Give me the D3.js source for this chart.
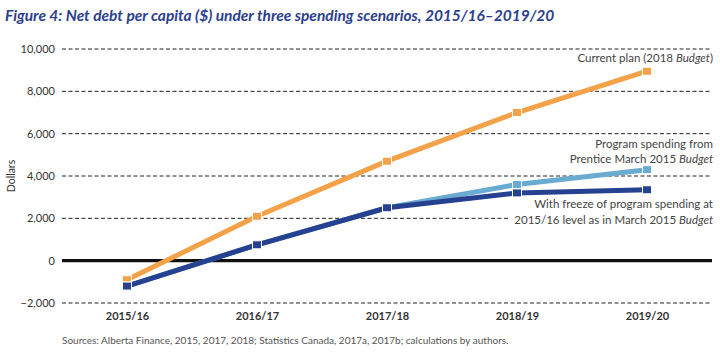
<!DOCTYPE html>
<html><head><meta charset="utf-8">
<script src="https://cdn.jsdelivr.net/npm/d3@7"></script>
<style>
body{margin:0;background:#fff;}
svg{display:block;font-family:Lato,"Open Sans",sans-serif;}
</style></head>
<body><svg id="c" width="720" height="359"></svg>
<script>
const years = ["2015/16","2016/17","2017/18","2018/19","2019/20"];
const currentPlan = [-900, 2100, 4700, 7000, 8950];
const prenticeProgram = [-1200, 750, 2500, 3600, 4300];
const freezeProgram = [-1200, 750, 2500, 3200, 3350];
const yTicks = [-2000, 0, 2000, 4000, 6000, 8000, 10000];

const svg = d3.select("#c");
const L = 62, R = 712, T = 49, B = 303;
const x = d3.scalePoint().domain(years).range([L, R]).padding(0.5);
const y = d3.scaleLinear().domain([-2000, 10000]).range([B, T]);

svg.append("text").attr("x", 5).attr("y", 21)
  .attr("fill", "#2c3f8d").attr("font-size", 15.5).attr("font-style", "italic").attr("font-weight", 700)
  .text("Figure 4: Net debt per capita ($) under three spending scenarios, 2015/16\u20132019/20");

// gridlines
const gridTicks = yTicks.filter(d => d !== 0);
svg.append("g").selectAll("line").data(gridTicks).join("line")
  .attr("x1", L).attr("x2", R).attr("y1", d => y(d)).attr("y2", d => y(d))
  .attr("stroke", "#222").attr("stroke-width", 1).attr("stroke-dasharray", "4,2.5");

// zero line
svg.append("line").attr("x1", L).attr("x2", R).attr("y1", y(0)).attr("y2", y(0))
  .attr("stroke", "#111").attr("stroke-width", 3.2);

// y axis labels
const yAxis = d3.axisLeft(y).tickValues(yTicks).tickSize(0).tickPadding(7).tickFormat(d3.format(","));
const ga = svg.append("g").attr("transform", `translate(${L},0)`).call(yAxis);
ga.select(".domain").remove();
ga.selectAll("text").attr("font-size", 11).attr("fill", "#333").attr("font-family", "Lato,sans-serif");

svg.append("text").attr("transform", `translate(15,${y(4000)}) rotate(-90)`)
  .attr("text-anchor", "middle").attr("font-size", 10.5).attr("fill", "#333").text("Dollars");

// x axis labels
const xAxis = d3.axisBottom(x).tickSize(0).tickPadding(9);
const gx = svg.append("g").attr("transform", `translate(0,${B})`).call(xAxis);
gx.select(".domain").remove();
gx.selectAll("text").attr("font-size", 11).attr("font-weight", 700).attr("fill", "#333").attr("font-family", "Lato,sans-serif");

// label backgrounds & labels
const labels = [
  {lines:[["Current plan (2018 ",""],["Budget","i"],[")",""]], y:62},
  {lines:[["Program spending from",""]], y:148},
  {lines:[["Prentice March 2015 ",""],["Budget","i"]], y:163},
  {lines:[["With freeze of program spending at",""]], y:208},
  {lines:[["2015/16 level as in March 2015 ",""],["Budget","i"]], y:224},
];
svg.append("rect").attr("x", 510).attr("y", y(2000) - 5).attr("width", R - 510 + 2).attr("height", 10).attr("fill", "#fff");
labels.forEach(l => {
  const t = svg.append("text").attr("x", R + 1).attr("y", l.y).attr("text-anchor", "end")
    .attr("font-size", 11.5).attr("fill", "#444");
  l.lines.forEach(p => {
    t.append("tspan").attr("font-style", p[1] === "i" ? "italic" : "normal").text(p[0]);
  });
});

// series
const series = [
  {vals: currentPlan, color: "#f4a24a"},
  {vals: prenticeProgram, color: "#6aabd2"},
  {vals: freezeProgram, color: "#26418f"},
];
const line = d3.line().x((d, i) => x(years[i])).y(d => y(d));
series.forEach(s => {
  svg.append("path").datum(s.vals).attr("d", line).attr("fill", "none")
    .attr("stroke", s.color).attr("stroke-width", 5);
  svg.append("g").selectAll("rect").data(s.vals).join("rect")
    .attr("x", (d, i) => x(years[i]) - 4.5).attr("y", d => y(d) - 4)
    .attr("width", 9).attr("height", 8).attr("fill", s.color)
    .attr("stroke", "#fff").attr("stroke-width", 1);
});

svg.append("text").attr("x", 62).attr("y", 344).attr("font-size", 10).attr("fill", "#555")
  .text("Sources: Alberta Finance, 2015, 2017, 2018; Statistics Canada, 2017a, 2017b; calculations by authors.");
</script></body></html>
